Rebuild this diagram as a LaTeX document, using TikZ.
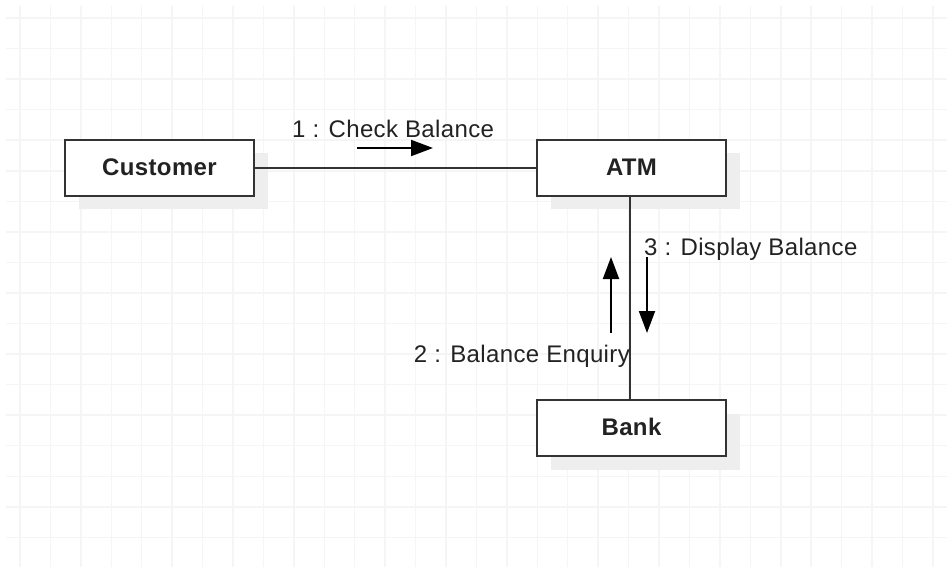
\documentclass[tikz,border=0pt]{standalone}
\usepackage{fontspec}
\setmainfont{Liberation Sans}
\usetikzlibrary{arrows.meta}
\definecolor{gridc}{HTML}{F5F5F5}
\definecolor{shadowc}{HTML}{EEEEEE}
\definecolor{inkc}{HTML}{222222}
\definecolor{linec}{HTML}{333333}
\tikzset{
  objbox/.style={draw=linec, line width=2pt, fill=white, minimum width=189pt, minimum height=56pt,
    inner sep=0pt, font=\fontsize{24}{28}\selectfont\bfseries\addfontfeature{LetterSpace=1.5}, text=inkc},
  shadowbox/.style={fill=shadowc, draw=none, minimum width=189pt, minimum height=56pt, inner sep=0pt},
  link/.style={draw=linec, line width=2pt},
  msgarrow/.style={draw=black, line width=2pt, -{Triangle[length=22pt,width=16pt]}},
  msglabel/.style={font=\fontsize{24}{28}\selectfont\addfontfeature{LetterSpace=1.5}, text=inkc, inner sep=0pt},
}
\begin{document}
\begin{tikzpicture}[x=1pt,y=-1pt]
\useasboundingbox (0,0) rectangle (947,567);
\fill[white] (0,0) rectangle (947,567);
% grid
\foreach \i in {0,...,30} {
  \draw[gridc, line width=1.5pt] ({20+30.43*\i},6) -- ({20+30.43*\i},567);
}
\foreach \j in {0,...,17} {
  \draw[gridc, line width=1.5pt] (6,{18+30.55*\j}) -- (947,{18+30.55*\j});
}
% shadows
\node[shadowbox] (cs) at (173.5,181) {};
\node[shadowbox] (as) at (645.5,181) {};
\node[shadowbox] (bs) at (645.5,442) {};
% nodes
\coordinate (cpos) at (159.5,167.5);
\coordinate (apos) at (631.5,167.5);
\coordinate (bpos) at (631.5,428);
\node[objbox] (cust) at (cpos) {\raisebox{1.5pt}{Customer}};
\node[objbox] (atm) at (apos) {\raisebox{1.5pt}{ATM}};
\node[objbox] (bank) at (bpos) {\raisebox{1.5pt}{Bank}};
% connectors
\draw[link] (cust.east) -- (atm.west);
\draw[link] ([xshift=-1.5pt]atm.south) -- ([xshift=-1.5pt]bank.north);
% message arrows
\coordinate (m1s) at (357,148);
\coordinate (m1e) at (433,148);
\draw[msgarrow] (m1s) -- (m1e);
\coordinate (m2s) at (611,333);
\coordinate (m2e) at (611,257);
\draw[msgarrow] (m2s) -- (m2e);
\coordinate (m3s) at (647,257);
\coordinate (m3e) at (647,333);
\draw[msgarrow] (m3s) -- (m3e);
% labels
\node[msglabel, anchor=base west] (l1) at (292,138) {1 : Check Balance};
\node[msglabel, anchor=base west] (l3) at (644,255) {3 : Display Balance};
\node[msglabel, anchor=base east] (l2) at (630,362) {2 : Balance Enquiry};
\end{tikzpicture}
\end{document}
